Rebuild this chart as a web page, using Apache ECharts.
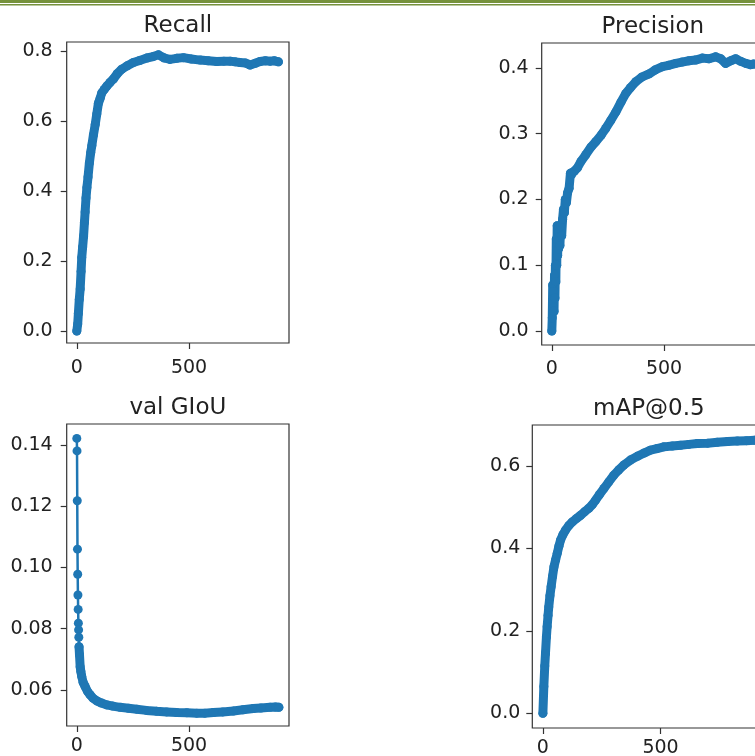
<!DOCTYPE html>
<html>
<head>
<meta charset="utf-8">
<title>training curves</title>
<script src="https://cdn.jsdelivr.net/npm/echarts@6/dist/echarts.min.js"></script>
<style>
  html, body { margin: 0; padding: 0; background: #fff; }
  #main { width: 755px; height: 756px; }
</style>
</head>
<body>
<div id="main"></div>
<script>
// values (epoch -> metric)
var recallEpochs = [0, 4, 7, 11, 15, 19, 22, 26, 30, 34, 37, 41, 45, 50, 56, 62, 67, 74, 82, 89,
  96, 104, 111, 122, 134, 148, 163, 180, 200, 225, 252, 280, 312, 340, 364, 390, 415, 445, 475, 510,
  549, 585, 623, 655, 683, 705, 727, 750, 772, 795, 816, 840, 861, 880, 898];
var recallValues = [0.0, 0.02, 0.05, 0.09, 0.12, 0.17, 0.21, 0.24, 0.27, 0.31, 0.34, 0.38, 0.41, 0.44, 0.48, 0.51, 0.53, 0.56, 0.59, 0.62,
  0.65, 0.665, 0.68, 0.69, 0.70, 0.71, 0.72, 0.735, 0.748, 0.758, 0.767, 0.773, 0.78, 0.784, 0.789, 0.78, 0.776, 0.779, 0.781, 0.777,
  0.774, 0.772, 0.77, 0.771, 0.771, 0.769, 0.767, 0.766, 0.76, 0.765, 0.77, 0.772, 0.771, 0.772, 0.769];

var precisionEpochs = [0, 2, 4, 6, 8, 10, 12, 14, 16, 18, 20, 22, 24, 26, 28, 30, 33, 36, 40, 44,
  48, 52, 56, 60, 65, 70, 77, 83, 89, 100, 114, 130, 151, 175, 196, 220, 240, 262, 285, 308,
  329, 350, 374, 400, 433, 460, 493, 520, 552, 580, 611, 640, 671, 700, 730, 752, 774, 797, 819, 842,
  864, 885, 900];
var precisionValues = [0.0, 0.02, 0.07, 0.035, 0.06, 0.03, 0.085, 0.05, 0.1, 0.075, 0.14, 0.1, 0.16, 0.115, 0.155, 0.125, 0.15, 0.13, 0.16, 0.145,
  0.17, 0.185, 0.18, 0.2, 0.195, 0.21, 0.217, 0.24, 0.238, 0.243, 0.248, 0.258, 0.268, 0.28, 0.288, 0.298, 0.308, 0.32, 0.333, 0.348,
  0.361, 0.37, 0.379, 0.386, 0.391, 0.397, 0.402, 0.404, 0.407, 0.409, 0.411, 0.412, 0.415, 0.414, 0.417, 0.414, 0.407, 0.411, 0.414, 0.41,
  0.407, 0.405, 0.406];

var giouEpochs = [0, 1, 2, 3, 4, 5, 6, 7, 8, 9, 10, 12, 15, 18, 22, 28, 37, 47, 59, 72,
  89, 110, 134, 160, 193, 230, 267, 310, 356, 400, 445, 490, 534, 570, 608, 650, 697, 740, 786, 820,
  861, 885, 900];
var giouValues = [0.1422, 0.1381, 0.1218, 0.106, 0.0978, 0.091, 0.0863, 0.0818, 0.0796, 0.0772, 0.0741, 0.0715, 0.0676, 0.0660, 0.0644, 0.0625, 0.0611, 0.0596, 0.0584, 0.0573,
  0.0564, 0.0557, 0.0551, 0.0547, 0.0543, 0.0540, 0.0537, 0.0533, 0.0530, 0.0528, 0.0526, 0.0525, 0.0524, 0.0524, 0.0526, 0.0528, 0.0531, 0.0535, 0.0539, 0.0541,
  0.0543, 0.0544, 0.0543];

var mapEpochs = [0, 4, 8, 11, 15, 18, 22, 25, 30, 35, 41, 47, 54, 61, 68, 75, 85, 96, 110, 125,
  142, 160, 178, 195, 210, 224, 240, 259, 280, 301, 322, 344, 372, 401, 430, 457, 485, 514, 550, 585,
  620, 656, 700, 741, 785, 826, 865, 900];
var mapValues = [0, 0.065, 0.115, 0.145, 0.185, 0.21, 0.238, 0.258, 0.285, 0.307, 0.332, 0.355, 0.372, 0.388, 0.405, 0.42, 0.433, 0.444, 0.455, 0.464,
  0.472, 0.48, 0.489, 0.497, 0.506, 0.517, 0.53, 0.545, 0.561, 0.577, 0.59, 0.602, 0.614, 0.623, 0.631, 0.638, 0.642, 0.646, 0.648, 0.65,
  0.652, 0.654, 0.655, 0.657, 0.659, 0.66, 0.661, 0.662];

// tick labels
var xTicks = [0, 500];
var recallTicks = [0.0, 0.2, 0.4, 0.6, 0.8];
var precisionTicks = [0.0, 0.1, 0.2, 0.3, 0.4];
var giouTicks = [0.06, 0.08, 0.10, 0.12, 0.14];
var mapTicks = [0.0, 0.2, 0.4, 0.6];

var titles = ['Recall', 'Precision', 'val GIoU', 'mAP@0.5'];

function pairs(xs, ys) {
  return xs.map(function (x, i) { return [x, ys[i]]; });
}

var blue = '#1f77b4';
var ink = '#222';
var font = 'DejaVu Sans';

// subplot boxes (px)
var boxes = [
  { left: 66.7, top: 42, width: 222.3, height: 301 },
  { left: 541.7, top: 43, width: 222.3, height: 302 },
  { left: 66.7, top: 424, width: 222.3, height: 302 },
  { left: 532.3, top: 425, width: 233, height: 303 }
];
var yRanges = [[-0.0343, 0.8257], [-0.0213, 0.438], [0.0482, 0.1469], [-0.0356, 0.699]];
var yTickSets = [recallTicks, precisionTicks, giouTicks, mapTicks];
var yDigits = [1, 1, 2, 1];
var xMargins = [16, 15, 11, 11];
var yMargins = [14, 13, 14, 12];

var grids = [], xAxes = [], yAxes = [], graphics = [];
boxes.forEach(function (b, i) {
  grids.push({
    left: b.left, top: b.top, width: b.width, height: b.height,
    show: true, borderColor: '#333', borderWidth: 1.2, backgroundColor: 'transparent',
    outerBoundsMode: 'none', containLabel: false
  });
  xAxes.push({
    type: 'value', gridIndex: i, min: -45, max: 945, position: 'bottom',
    axisLine: { show: false, onZero: false },
    splitLine: { show: false },
    axisTick: { show: true, inside: false, length: 6, customValues: xTicks, lineStyle: { color: '#333', width: 1.2 } },
    axisLabel: { customValues: xTicks, margin: xMargins[i], color: ink, fontFamily: font, fontSize: 19 }
  });
  yAxes.push({
    type: 'value', gridIndex: i, min: yRanges[i][0], max: yRanges[i][1], position: 'left',
    axisLine: { show: false, onZero: false },
    splitLine: { show: false },
    axisTick: { show: true, inside: false, length: 6, customValues: yTickSets[i], lineStyle: { color: '#333', width: 1.2 } },
    axisLabel: {
      customValues: yTickSets[i], margin: yMargins[i], color: ink, fontFamily: font, fontSize: 19,
      formatter: (function (d) { return function (v) { return v.toFixed(d); }; })(yDigits[i])
    }
  });
  graphics.push({
    type: 'text', x: b.left + b.width / 2, y: b.top - 16,
    style: { text: titles[i], textAlign: 'center', textVerticalAlign: 'middle', font: '23px ' + font, fill: ink }
  });
});

// green rule across the top of the page
graphics.push({ type: 'rect', shape: { x: 0, y: 0, width: 755, height: 3 }, style: { fill: '#76923c' } });
graphics.push({ type: 'rect', shape: { x: 0, y: 4, width: 755, height: 1.5 }, style: { fill: '#76923c' } });

function band(name, data, idx) {
  return {
    name: name, type: 'line', xAxisIndex: idx, yAxisIndex: idx, data: data,
    symbol: 'circle', symbolSize: 9, showSymbol: true,
    itemStyle: { color: blue },
    lineStyle: { color: blue, width: 9, cap: 'round', join: 'round' }
  };
}

var giouData = pairs(giouEpochs, giouValues);

var series = [
  band('Recall', pairs(recallEpochs, recallValues), 0),
  band('Precision', pairs(precisionEpochs, precisionValues), 1),
  // val GIoU: thin line with dots for the first epochs, then the dense band
  {
    name: 'val GIoU', type: 'line', xAxisIndex: 2, yAxisIndex: 2, data: giouData,
    symbol: 'circle', symbolSize: 9, showSymbol: true,
    itemStyle: { color: blue },
    lineStyle: { color: blue, width: 2.5 }
  },
  {
    name: 'val GIoU band', type: 'line', xAxisIndex: 2, yAxisIndex: 2,
    data: giouData.filter(function (p) { return p[0] >= 10; }),
    showSymbol: false,
    lineStyle: { color: blue, width: 9, cap: 'round', join: 'round' }
  },
  band('mAP@0.5', pairs(mapEpochs, mapValues), 3)
];

var myChart = echarts.init(document.getElementById('main'), null, { renderer: 'canvas' });
myChart.setOption({
  animation: false,
  backgroundColor: '#fff',
  grid: grids,
  xAxis: xAxes,
  yAxis: yAxes,
  graphic: graphics,
  series: series
});
</script>
</body>
</html>
